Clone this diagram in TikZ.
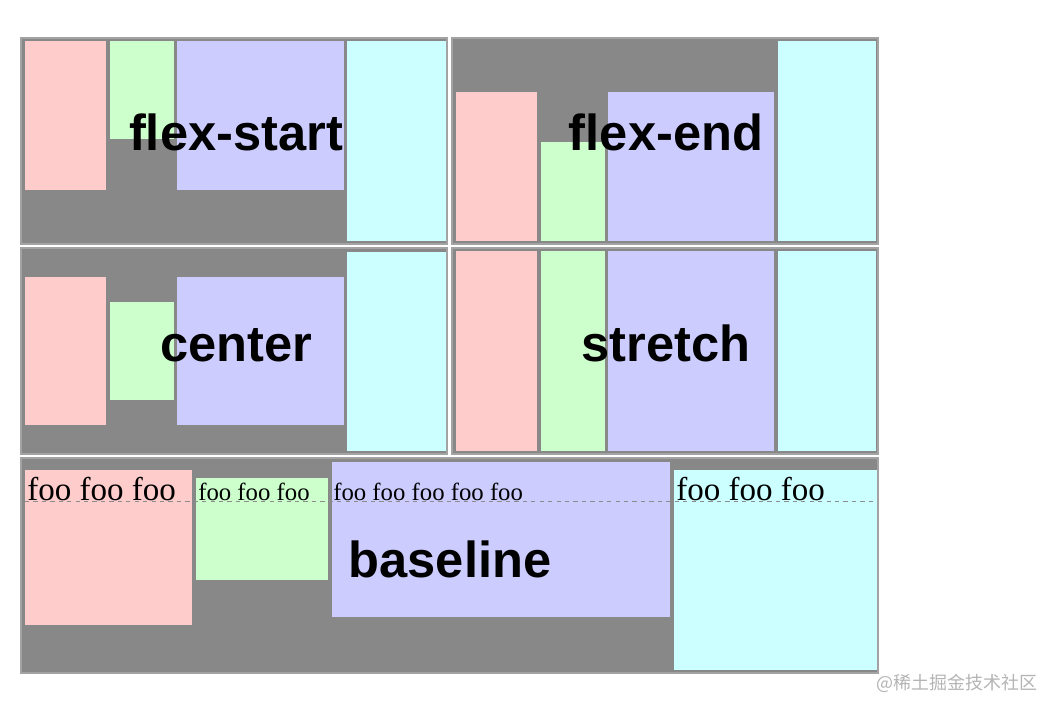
\documentclass[tikz,border=0pt]{standalone}
\usepackage{xcolor}
\usepackage{fontspec}
\setmainfont{Liberation Serif}
\setsansfont{Liberation Sans}
\newfontfamily\cjkfont{Noto Sans CJK SC}
\usepackage{tikz}
\usetikzlibrary{positioning}
\definecolor{itempink}{HTML}{FFCCCC}
\definecolor{itemgreen}{HTML}{CCFFCC}
\definecolor{itemblue}{HTML}{CCCCFF}
\definecolor{itemcyan}{HTML}{CCFFFF}
\definecolor{panelgray}{HTML}{888888}
\definecolor{panelborder}{HTML}{A3A3A3}
\definecolor{markgray}{HTML}{B4B4B4}
\tikzset{
  panel/.style={fill=panelgray, draw=panelborder, line width=1.4pt},
  item/.style={fill=#1},
  item/.default=itempink,
  alignlabel/.style={anchor=base, inner sep=0pt,
                     font=\sffamily\bfseries\fontsize{36pt}{40pt}\selectfont},
  foobig/.style={anchor=base west, inner sep=0pt,
                 font=\rmfamily\fontsize{23.5pt}{26pt}\selectfont},
  foosmall/.style={anchor=base west, inner sep=0pt,
                   font=\rmfamily\fontsize{17.6pt}{20pt}\selectfont},
  baselinemark/.style={draw=gray!90, line width=0.6pt, dash pattern=on 3pt off 3pt},
}

\begin{document}
\begin{tikzpicture}[x=0.025cm, y=-0.025cm]
  \useasboundingbox (0,0) rectangle (1056,712);

  % Panels
  \path[panel] (21,38) rectangle (447,244);
  \path[panel] (452,38) rectangle (878,244);
  \path[panel] (21,248) rectangle (447,454);
  \path[panel] (452,248) rectangle (878,454);
  \path[panel] (21,458) rectangle (878,673);

  % flex-start
  \fill[item=itempink]  (25,41) rectangle (106,190);
  \fill[item=itemgreen] (110,41) rectangle (174,139);
  \fill[item=itemblue]  (177,41) rectangle (344,190);
  \fill[item=itemcyan]  (347,41) rectangle (446,241);
  \node[alignlabel] (start) at (236,150) {flex-start};

  % flex-end
  \fill[item=itempink]  (456,92) rectangle (537,241);
  \fill[item=itemgreen] (541,142) rectangle (605,241);
  \fill[item=itemblue]  (608,92) rectangle (774,241);
  \fill[item=itemcyan]  (778,41) rectangle (876,241);
  \node[alignlabel] (end) at (666,150) {flex-end};

  % center
  \fill[item=itempink]  (25,277) rectangle (106,425);
  \fill[item=itemgreen] (110,302) rectangle (174,400);
  \fill[item=itemblue]  (177,277) rectangle (344,425);
  \fill[item=itemcyan]  (347,252) rectangle (446,451);
  \node[alignlabel] (center) at (236,361) {center};

  % stretch
  \fill[item=itempink]  (456,251) rectangle (537,451);
  \fill[item=itemgreen] (541,251) rectangle (605,451);
  \fill[item=itemblue]  (608,251) rectangle (774,451);
  \fill[item=itemcyan]  (778,251) rectangle (876,451);
  \node[alignlabel] (stretch) at (666,361) {stretch};

  % baseline
  \fill[item=itempink]  (25,470) rectangle (192,625);
  \fill[item=itemgreen] (196,478) rectangle (328,580);
  \fill[item=itemblue]  (332,462) rectangle (670,617);
  \fill[item=itemcyan]  (674,470) rectangle (877,670);
  \coordinate (markleft) at (25,501);
  \coordinate (markright) at (877,501);
  \draw[baselinemark] (markleft) -- (markright);
  \node[foobig]   (foopink)  at (27,500)  {foo foo foo};
  \node[foosmall] (foogreen) at (198,500) {foo foo foo};
  \node[foosmall] (fooblue)  at (333,500) {foo foo foo foo foo};
  \node[foobig]   (foocyan)  at (676,500) {foo foo foo};
  \node[alignlabel] (base) at (450,577) {baseline};

  % watermark
  \node[anchor=west, inner sep=0pt, text=markgray,
        font=\cjkfont\fontsize{12.8pt}{15pt}\selectfont] (mark) at (876,683)
    {@稀土掘金技术社区};
\end{tikzpicture}
\end{document}
